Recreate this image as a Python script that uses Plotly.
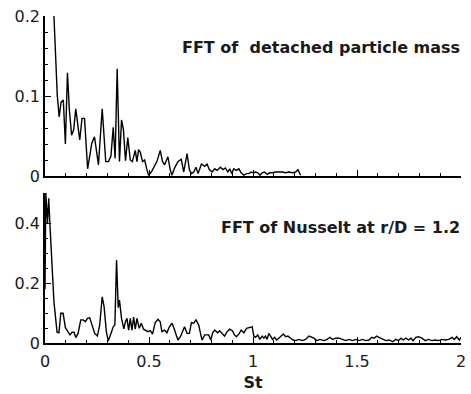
import plotly.graph_objects as go

# ---- data ----
st_particle = [0.043, 0.059, 0.068, 0.077, 0.088, 0.098, 0.108, 0.117, 0.128, 0.138,
               0.148, 0.157, 0.167, 0.178, 0.190, 0.205, 0.225, 0.238, 0.257, 0.275,
               0.292, 0.305, 0.317, 0.328, 0.337, 0.347, 0.358, 0.368, 0.377, 0.387,
               0.398, 0.410, 0.420, 0.434, 0.442, 0.450, 0.458, 0.469, 0.479, 0.490,
               0.498, 0.511, 0.527, 0.538, 0.554, 0.565, 0.575, 0.591, 0.602, 0.610,
               0.623, 0.639, 0.655, 0.667, 0.683, 0.694, 0.704, 0.715, 0.726, 0.736,
               0.752, 0.768, 0.779, 0.790, 0.803, 0.816, 0.827, 0.843, 0.856, 0.867,
               0.879, 0.888, 0.898, 0.907, 0.920, 0.932, 0.943, 0.956, 0.969, 0.980,
               0.991, 1.001, 1.012, 1.023, 1.033, 1.044, 1.055, 1.068, 1.081, 1.093,
               1.108, 1.124, 1.141, 1.157, 1.173, 1.189, 1.205, 1.216, 1.224, 1.229]
fft_particle = [0.200, 0.101, 0.074, 0.092, 0.095, 0.040, 0.129, 0.083, 0.051, 0.058,
                0.084, 0.066, 0.045, 0.072, 0.072, 0.009, 0.041, 0.049, 0.014, 0.084,
                0.018, 0.018, 0.025, 0.061, 0.022, 0.134, 0.018, 0.070, 0.058, 0.019,
                0.048, 0.020, 0.018, 0.032, 0.018, 0.033, 0.030, 0.018, 0.020, 0.008,
                0.001, 0.005, 0.014, 0.018, 0.032, 0.018, 0.014, 0.024, 0.008, 0.001,
                0.010, 0.018, 0.021, 0.005, 0.028, 0.008, 0.003, 0.005, 0.011, 0.003,
                0.015, 0.012, 0.015, 0.008, 0.005, 0.009, 0.007, 0.011, 0.008, 0.010,
                0.005, 0.009, 0.003, 0.009, 0.007, 0.009, 0.004, 0.001, 0.003, 0.003,
                0.005, 0.004, 0.005, 0.004, 0.001, 0.004, 0.005, 0.002, 0.004, 0.004,
                0.005, 0.005, 0.005, 0.004, 0.005, 0.004, 0.005, 0.008, 0.004, 0.001]

st_nusselt = [0.000, 0.004, 0.012, 0.018, 0.023, 0.034, 0.043, 0.058, 0.067, 0.076,
              0.087, 0.098, 0.111, 0.120, 0.130, 0.140, 0.148, 0.159, 0.172, 0.183,
              0.194, 0.204, 0.215, 0.227, 0.239, 0.252, 0.263, 0.275, 0.284, 0.295,
              0.304, 0.317, 0.328, 0.336, 0.344, 0.352, 0.358, 0.368, 0.379, 0.387,
              0.394, 0.402, 0.410, 0.418, 0.426, 0.434, 0.442, 0.453, 0.463, 0.474,
              0.485, 0.495, 0.506, 0.517, 0.530, 0.543, 0.554, 0.562, 0.575, 0.586,
              0.598, 0.611, 0.620, 0.630, 0.639, 0.651, 0.662, 0.671, 0.683, 0.694,
              0.704, 0.715, 0.726, 0.739, 0.747, 0.755, 0.768, 0.779, 0.787, 0.797,
              0.806, 0.816, 0.830, 0.840, 0.852, 0.863, 0.876, 0.888, 0.901, 0.911,
              0.920, 0.932, 0.943, 0.956, 0.969, 0.985, 0.996, 1.004, 1.012, 1.023,
              1.033, 1.044, 1.052, 1.060, 1.068, 1.076, 1.084, 1.094, 1.104, 1.113,
              1.124, 1.136, 1.146, 1.157, 1.168, 1.181, 1.193, 1.206, 1.221, 1.237,
              1.253, 1.269, 1.280, 1.293, 1.306, 1.322, 1.341, 1.357, 1.370, 1.382,
              1.398, 1.414, 1.430, 1.446, 1.462, 1.478, 1.494, 1.510, 1.526, 1.542,
              1.558, 1.571, 1.582, 1.594, 1.606, 1.623, 1.639, 1.655, 1.671, 1.687,
              1.700, 1.711, 1.722, 1.735, 1.748, 1.759, 1.770, 1.783, 1.796, 1.812,
              1.828, 1.844, 1.860, 1.876, 1.892, 1.908, 1.924, 1.941, 1.957, 1.968,
              1.979, 1.992, 2.000]
fft_nusselt = [0.180, 0.500, 0.400, 0.482, 0.404, 0.249, 0.138, 0.036, 0.034, 0.099,
               0.099, 0.051, 0.038, 0.027, 0.036, 0.036, 0.018, 0.032, 0.077, 0.077,
               0.071, 0.082, 0.084, 0.054, 0.032, 0.024, 0.060, 0.154, 0.121, 0.038,
               0.007, 0.032, 0.054, 0.060, 0.277, 0.118, 0.143, 0.082, 0.047, 0.071,
               0.082, 0.043, 0.082, 0.043, 0.086, 0.046, 0.082, 0.049, 0.066, 0.046,
               0.041, 0.038, 0.041, 0.030, 0.068, 0.079, 0.071, 0.038, 0.043, 0.034,
               0.054, 0.066, 0.049, 0.027, 0.010, 0.021, 0.043, 0.054, 0.032, 0.032,
               0.068, 0.066, 0.077, 0.060, 0.034, 0.010, 0.027, 0.027, 0.027, 0.010,
               0.034, 0.043, 0.034, 0.041, 0.030, 0.023, 0.038, 0.046, 0.041, 0.027,
               0.021, 0.030, 0.043, 0.034, 0.049, 0.052, 0.054, 0.023, 0.019, 0.027,
               0.012, 0.023, 0.016, 0.023, 0.012, 0.032, 0.021, 0.012, 0.019, 0.010,
               0.016, 0.023, 0.030, 0.021, 0.023, 0.016, 0.010, 0.008, 0.012, 0.008,
               0.012, 0.023, 0.019, 0.016, 0.008, 0.012, 0.008, 0.012, 0.019, 0.012,
               0.016, 0.016, 0.012, 0.008, 0.012, 0.008, 0.012, 0.008, 0.012, 0.008,
               0.010, 0.019, 0.016, 0.023, 0.019, 0.012, 0.008, 0.010, 0.004, 0.012,
               0.008, 0.016, 0.010, 0.016, 0.010, 0.016, 0.008, 0.019, 0.021, 0.016,
               0.008, 0.012, 0.008, 0.010, 0.008, 0.012, 0.010, 0.012, 0.019, 0.012,
               0.021, 0.010, 0.019]

x_ticks = [0, 0.5, 1, 1.5, 2]
x_tick_labels = ["0", "0.5", "1", "1.5", "2"]
top_y_ticks = [0, 0.1, 0.2]
top_y_labels = ["0", "0.1", "0.2"]
bot_y_ticks = [0, 0.2, 0.4]
bot_y_labels = ["0", "0.2", "0.4"]

title_top = "FFT of  detached particle mass"
title_bot = "FFT of Nusselt at r/D = 1.2"
x_title = "St"

FONT = "DejaVu Sans"
INK = "#1a1a1a"

fig = go.Figure()
fig.add_trace(go.Scatter(x=st_particle, y=fft_particle, mode="lines",
                         line=dict(color="black", width=1.4),
                         xaxis="x", yaxis="y", showlegend=False))
fig.add_trace(go.Scatter(x=st_nusselt, y=fft_nusselt, mode="lines",
                         line=dict(color="black", width=1.4),
                         xaxis="x2", yaxis="y2", showlegend=False))

common_x = dict(range=[0, 2], showline=True, linecolor="black", linewidth=1.6,
                ticks="inside", ticklen=6, tickwidth=1.2, tickcolor="black",
                tickvals=x_ticks, showgrid=False, zeroline=False, automargin=False,
                minor=dict(dtick=0.1, ticks="inside", ticklen=3, tickwidth=1, tickcolor="black"),
                tickfont=dict(family=FONT, size=16, color=INK))
common_y = dict(showline=True, linecolor="black", linewidth=1.6,
                ticks="inside", ticklen=6, tickwidth=1.2, tickcolor="black",
                showgrid=False, zeroline=False, automargin=False,
                tickfont=dict(family=FONT, size=16, color=INK))

fig.update_layout(
    template="none",
    width=471, height=394,
    margin=dict(l=45, r=10, t=16, b=51, pad=0),
    paper_bgcolor="white", plot_bgcolor="white",
    xaxis=dict(common_x, domain=[0, 1], anchor="y", showticklabels=False),
    yaxis=dict(common_y, domain=[0.5107, 1], anchor="x", range=[0, 0.2],
               tickvals=top_y_ticks, ticktext=top_y_labels,
               minor=dict(dtick=0.02, ticks="inside", ticklen=3, tickwidth=1, tickcolor="black")),
    xaxis2=dict(common_x, domain=[0, 1], anchor="y2", ticktext=x_tick_labels,
                ticklabelstandoff=3,
                title=dict(text="<b>" + x_title + "</b>", font=dict(family=FONT, size=16, color=INK),
                           standoff=7)),
    yaxis2=dict(common_y, domain=[0, 0.4587], anchor="x2", range=[0, 0.5],
                tickvals=bot_y_ticks, ticktext=bot_y_labels,
                minor=dict(dtick=0.05, ticks="inside", ticklen=3, tickwidth=1, tickcolor="black")),
    annotations=[
        dict(text="<b>" + title_top + "</b>", xref="paper", yref="paper", x=1.003, y=0.905,
             xanchor="right", yanchor="middle", showarrow=False,
             font=dict(family=FONT, size=16, color=INK)),
        dict(text="<b>" + title_bot + "</b>", xref="paper", yref="paper", x=1.003, y=0.352,
             xanchor="right", yanchor="middle", showarrow=False,
             font=dict(family=FONT, size=16, color=INK)),
    ],
)

fig.write_html("out.html", config={"displayModeBar": False},
               post_script="document.body.style.margin='0';document.body.style.overflow='hidden';")
